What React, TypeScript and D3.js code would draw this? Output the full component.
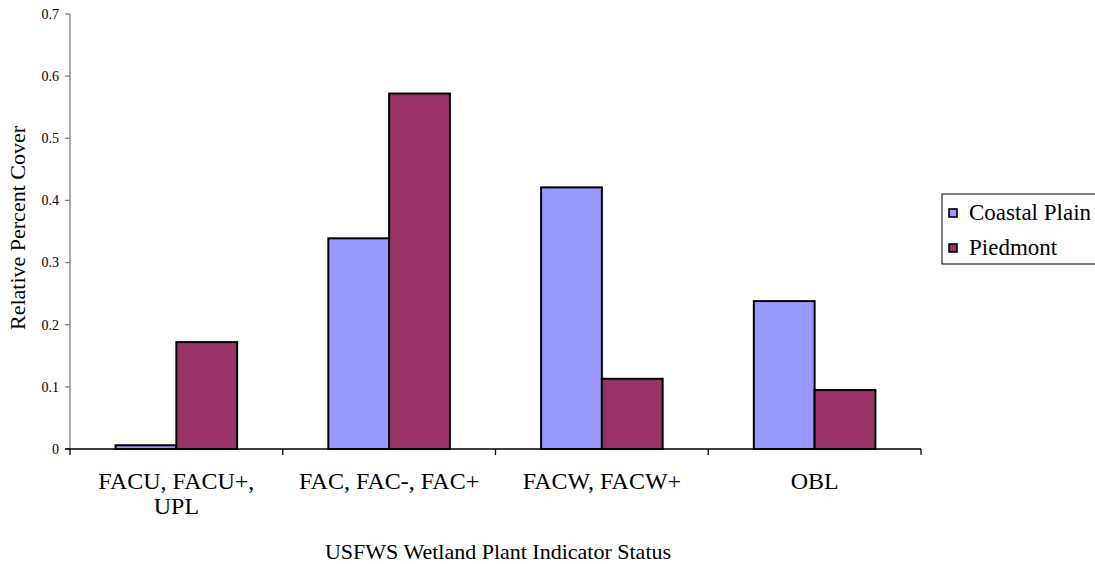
import React from "react";
import * as d3 from "d3";

const categories = ["FACU, FACU+, UPL", "FAC, FAC-, FAC+", "FACW, FACW+", "OBL"];
const categoryLines = [["FACU, FACU+,", "UPL"], ["FAC, FAC-, FAC+"], ["FACW, FACW+"], ["OBL"]];
const seriesNames = ["Coastal Plain", "Piedmont"];
const coastalPlain = [0.006, 0.339, 0.421, 0.238];
const piedmont = [0.172, 0.572, 0.113, 0.095];
const yTicks = [0, 0.1, 0.2, 0.3, 0.4, 0.5, 0.6, 0.7];
const seriesColors = ["#9999FF", "#993366"];

const W = 1095;
const H = 564;
const left = 70;
const right = 921;
const top = 14;
const bottom = 449;
const txt = { fontFamily: '"Liberation Serif"' };

export default function App() {
  const x0 = d3.scaleBand<string>().domain(categories).range([left, right]).paddingInner(0).paddingOuter(0);
  const x1 = d3.scaleBand<string>().domain(seriesNames).range([0, x0.bandwidth()]).paddingInner(0).paddingOuter(0.75);
  const y = d3.scaleLinear().domain([0, 0.7]).range([bottom, top]);
  const values = [coastalPlain, piedmont];

  return (
    <svg width={W} height={H} style={{ position: "absolute", left: 0, top: 0, background: "#fff" }}>
      <rect x={0} y={0} width={W} height={H} fill="#fff" />
      {seriesNames.map((s, si) =>
        categories.map((c, ci) => {
          const v = values[si][ci];
          const bx = (x0(c) as number) + (x1(s) as number);
          return (
            <rect
              key={s + c}
              x={bx}
              y={y(v)}
              width={x1.bandwidth()}
              height={y(0) - y(v)}
              fill={seriesColors[si]}
              stroke="#000"
              strokeWidth={2}
            />
          );
        })
      )}
      <line x1={left} x2={left} y1={top} y2={bottom} stroke="#808080" strokeWidth={1.3} />
      {yTicks.map((t) => (
        <g key={t}>
          <line x1={left - 5} x2={left} y1={y(t)} y2={y(t)} stroke="#808080" strokeWidth={1.3} />
          <text x={left - 11} y={y(t)} dy="0.35em" textAnchor="end" fontSize={14} fill="#000" style={txt}>
            {d3.format("")(t)}
          </text>
        </g>
      ))}
      <line x1={left - 5} x2={right} y1={bottom} y2={bottom} stroke="#000" strokeWidth={1.3} />
      {[...categories.map((c) => x0(c) as number), right].map((tx, i) => (
        <line key={i} x1={tx} x2={tx} y1={bottom} y2={bottom + 6} stroke="#000" strokeWidth={1.3} />
      ))}
      {categories.map((c, ci) => (
        <text key={c} x={(x0(c) as number) + x0.bandwidth() / 2} y={489} textAnchor="middle" fontSize={24} fill="#000" style={txt}>
          {categoryLines[ci].map((ln, li) => (
            <tspan key={li} x={(x0(c) as number) + x0.bandwidth() / 2} dy={li === 0 ? 0 : 25}>
              {ln}
            </tspan>
          ))}
        </text>
      ))}
      <text x={498} y={559} textAnchor="middle" fontSize={22} fill="#000" style={txt}>
        USFWS Wetland Plant Indicator Status
      </text>
      <text transform={`translate(25,228) rotate(-90)`} textAnchor="middle" fontSize={22} fill="#000" style={txt}>
        Relative Percent Cover
      </text>
      <rect x={942} y={194} width={170} height={70} fill="#fff" stroke="#000" strokeWidth={1} />
      {seriesNames.map((s, si) => (
        <g key={s}>
          <rect x={949} y={209 + si * 35} width={8} height={8} fill={seriesColors[si]} stroke="#000" strokeWidth={1.6} />
          <text x={969} y={220 + si * 35} fontSize={23} fill="#000" style={txt}>
            {s}
          </text>
        </g>
      ))}
    </svg>
  );
}
